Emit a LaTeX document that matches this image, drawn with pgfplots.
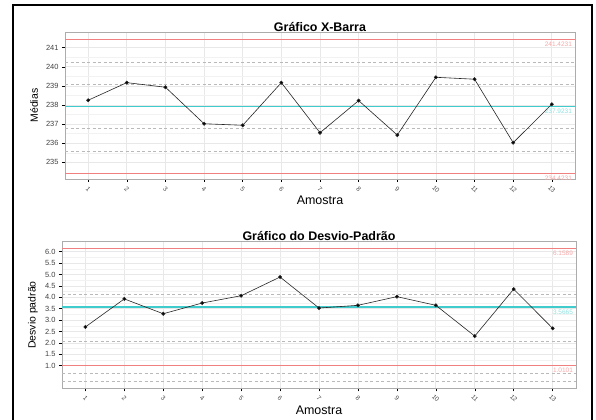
\documentclass[border=0pt]{standalone}
\usepackage{pgfplots}
\pgfplotsset{compat=1.18}
\usepackage{fontspec}
\setmainfont{Liberation Sans}
\definecolor{ucl}{HTML}{F08080}
\definecolor{ctr}{HTML}{40CCCC}
\definecolor{ulbl}{HTML}{F6A8A8}
\definecolor{clbl}{HTML}{8EE0E0}
\begin{document}
\begin{tikzpicture}
\path[use as bounding box] (0bp,0bp) rectangle (596bp,420bp);
\draw[line width=1.1bp] (13bp,0bp)--(13bp,415bp)--(592bp,415bp)--(592bp,0bp);
\pgfplotsset{
 cc/.style={scale only axis, anchor=south west,
  xmin=0.4, xmax=13.6, xtick={1,...,13},
  tick align=outside, tick pos=left,
  axis line style={gray!65, line width=0.9bp},
  major tick style={black, line width=0.5bp},
  major tick length=3bp, minor tick length=0pt,
  grid=both,
  major grid style={gray!18, line width=0.7bp},
  minor grid style={gray!10, line width=0.5bp},
  minor y tick num=1,
  /pgf/number format/assume math mode=true,
  xticklabel style={font=\fontsize{6.5}{6.5}\selectfont, text=black!70, yshift=-7bp, rotate=-45, anchor=center},
  yticklabel style={font=\fontsize{7.5}{7.5}\selectfont, text=black!75},
  title style={font=\bfseries\fontsize{12.5}{12.5}\selectfont, at={(axis description cs:0.5,1)}, anchor=base, yshift=-5bp},
  xlabel style={font=\fontsize{12.5}{12.5}\selectfont, at={(axis description cs:0.5,0)}, anchor=base, yshift=-26bp},
  ylabel style={font=\fontsize{10.5}{10.5}\selectfont, at={(axis description cs:0,0.5)}, anchor=center},
  clip=false,
 },
 dl/.style={gray!55, line width=0.6bp, dash pattern=on 3bp off 2.5bp, forget plot},
}
% top chart
\begin{axis}[cc, at={(65bp,241bp)}, width=510bp, height=147bp,
  ymin=234.13, ymax=241.82, ytick={235,...,241},
  title={Gráfico X-Barra}, xlabel={Amostra}, ylabel={Médias},
  ylabel style={yshift=31bp}]
\addplot[dl] coordinates {(0.4,240.256) (13.6,240.256)};
\addplot[dl] coordinates {(0.4,239.090) (13.6,239.090)};
\addplot[dl] coordinates {(0.4,236.756) (13.6,236.756)};
\addplot[dl] coordinates {(0.4,235.590) (13.6,235.590)};
\addplot[draw=ctr, line width=1.3bp] coordinates {(0.4,237.9231) (13.6,237.9231)};
\addplot[draw=ucl, line width=0.8bp] coordinates {(0.4,241.4231) (13.6,241.4231)};
\addplot[draw=ucl, line width=0.8bp] coordinates {(0.4,234.4231) (13.6,234.4231)};
\addplot[black!85, line width=0.6bp, mark=*, mark size=1.6bp, mark options={fill=black}] coordinates {
(1,238.25) (2,239.17) (3,238.93) (4,237.02) (5,236.94) (6,239.17) (7,236.55)
(8,238.23) (9,236.43) (10,239.45) (11,239.35) (12,236.03) (13,238.04)};
\node[anchor=north east, font=\fontsize{6.5}{6.5}\selectfont, text=ulbl, inner sep=1bp] at (axis cs:13.55,241.35) {241.4231};
\node[anchor=north east, font=\fontsize{6.5}{6.5}\selectfont, text=clbl, inner sep=1bp] at (axis cs:13.55,237.85) {237.9231};
\node[anchor=north east, font=\fontsize{6.5}{6.5}\selectfont, text=ulbl, inner sep=1bp] at (axis cs:13.55,234.35) {234.4231};
\end{axis}
% bottom chart
\begin{axis}[cc, at={(62bp,31.7bp)}, width=514bp, height=146.6bp,
  ymin=0.01, ymax=6.44, ytick={1,1.5,...,6},
  yticklabel={\pgfmathprintnumber[fixed,fixed zerofill,precision=1]{\tick}},
  title={Gráfico do Desvio-Padrão}, xlabel={Amostra}, ylabel={Desvio padrão},
  ylabel style={yshift=29bp}]
\addplot[dl] coordinates {(0.4,4.14) (13.6,4.14)};
\addplot[dl] coordinates {(0.4,2.05) (13.6,2.05)};
\addplot[dl] coordinates {(0.4,0.67) (13.6,0.67)};
\addplot[dl] coordinates {(0.4,0.33) (13.6,0.33)};
\addplot[draw=ctr, line width=1.6bp] coordinates {(0.4,3.5665) (13.6,3.5665)};
\addplot[draw=ucl, line width=0.8bp] coordinates {(0.4,6.1589) (13.6,6.1589)};
\addplot[draw=ucl, line width=0.8bp] coordinates {(0.4,1.0101) (13.6,1.0101)};
\addplot[black!85, line width=0.6bp, mark=*, mark size=1.6bp, mark options={fill=black}] coordinates {
(1,2.70) (2,3.93) (3,3.28) (4,3.75) (5,4.07) (6,4.89) (7,3.53)
(8,3.65) (9,4.03) (10,3.65) (11,2.30) (12,4.36) (13,2.64)};
\node[anchor=north east, font=\fontsize{6.5}{6.5}\selectfont, text=ulbl, inner sep=1bp] at (axis cs:13.55,6.10) {6.1589};
\node[anchor=north east, font=\fontsize{6.5}{6.5}\selectfont, text=clbl, inner sep=1bp] at (axis cs:13.55,3.50) {3.5665};
\node[anchor=north east, font=\fontsize{6.5}{6.5}\selectfont, text=ulbl, inner sep=1bp] at (axis cs:13.55,0.95) {1.0101};
\end{axis}
\end{tikzpicture}
\end{document}
